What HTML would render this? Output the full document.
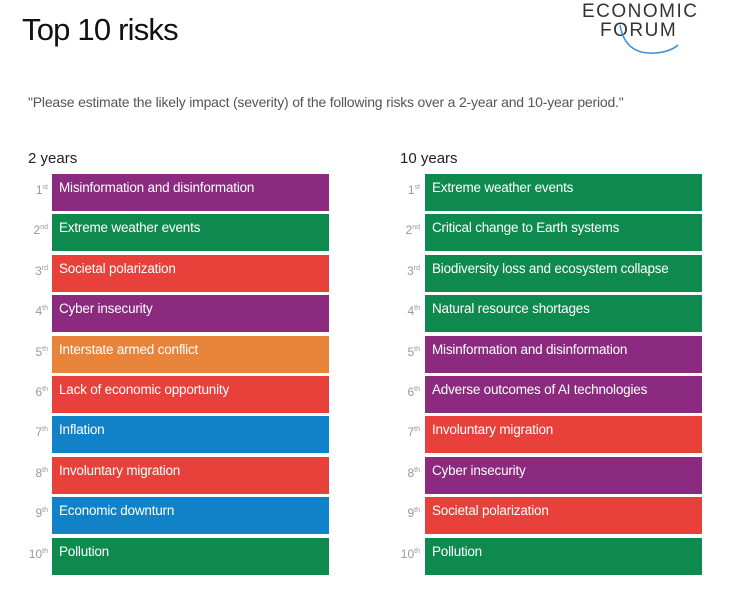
<!DOCTYPE html>
<html><head><style>
body{margin:0;width:740px;height:600px;background:#fff;font-family:"Liberation Sans",sans-serif;position:relative;overflow:hidden}
.a{position:absolute}
.box{position:absolute;height:37px;color:#fff;font-size:13.5px;line-height:28px;padding-left:7px;box-sizing:border-box;width:277px;letter-spacing:-0.2px}
.rk{position:absolute;font-size:12px;color:#999;text-align:right;width:24px;line-height:28px}
.rk sup{font-size:7px}
.P{background:#8B2A7E}.G{background:#0F8A4E}.R{background:#E8403A}.O{background:#E8843A}.B{background:#1182C8}
</style></head><body>
<div class="a" style="left:22px;top:12px;font-size:31px;font-weight:normal;color:#111;letter-spacing:-0.8px">Top 10 risks</div>
<div class="a" style="left:582px;top:1px;font-size:19px;color:#333;letter-spacing:1.5px">ECONOMIC</div>
<div class="a" style="left:600px;top:20px;font-size:19px;color:#333;letter-spacing:1.5px">FORUM</div>
<svg class="a" style="left:610px;top:20px" width="80" height="40"><path d="M10 5 Q15 35 45 33 Q60 32 68 25" stroke="#3b8fd6" stroke-width="1.5" fill="none"/></svg>
<div class="a" style="left:28px;top:94px;font-size:14px;color:#555;letter-spacing:-0.2px">"Please estimate the likely impact (severity) of the following risks over a 2-year and 10-year period."</div>
<div class="a" style="left:28px;top:150px;font-size:15px;color:#222">2 years</div>
<div class="a" style="left:400px;top:150px;font-size:15px;color:#222">10 years</div>
<div id="c"></div>
<script>
const L=[["Misinformation and disinformation","P"],["Extreme weather events","G"],["Societal polarization","R"],["Cyber insecurity","P"],["Interstate armed conflict","O"],["Lack of economic opportunity","R"],["Inflation","B"],["Involuntary migration","R"],["Economic downturn","B"],["Pollution","G"]];
const Rr=[["Extreme weather events","G"],["Critical change to Earth systems","G"],["Biodiversity loss and ecosystem collapse","G"],["Natural resource shortages","G"],["Misinformation and disinformation","P"],["Adverse outcomes of AI technologies","P"],["Involuntary migration","R"],["Cyber insecurity","P"],["Societal polarization","R"],["Pollution","G"]];
const sf=["st","nd","rd","th","th","th","th","th","th","th"];
let h="";
for(let i=0;i<10;i++){const y=174+i*40.4;
h+=`<div class="rk" style="left:24px;top:${y}px">${i+1}<sup>${sf[i]}</sup></div><div class="box ${L[i][1]}" style="left:52px;top:${y}px">${L[i][0]}</div>`;
h+=`<div class="rk" style="left:396px;top:${y}px">${i+1}<sup>${sf[i]}</sup></div><div class="box ${Rr[i][1]}" style="left:425px;top:${y}px">${Rr[i][0]}</div>`;}
document.getElementById("c").innerHTML=h;
</script>
</body></html>
